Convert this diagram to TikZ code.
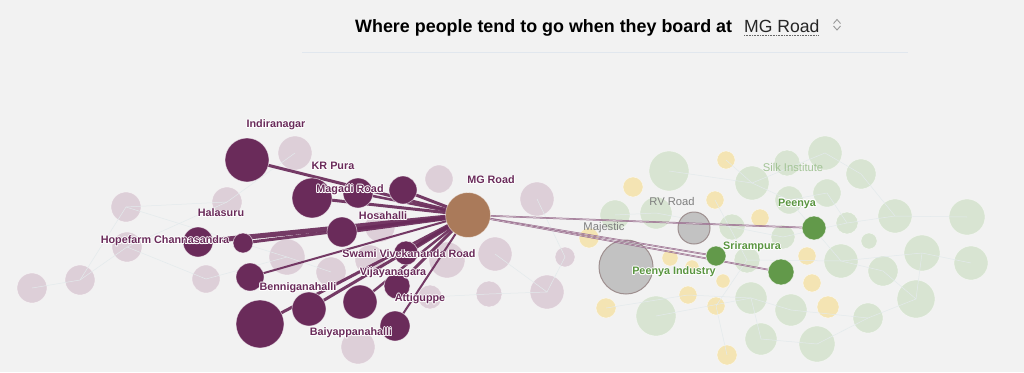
\documentclass[tikz,border=0pt]{standalone}
\usepackage{fontspec}
\setmainfont{Liberation Sans}
\definecolor{bg}{HTML}{F2F2F2}
\definecolor{dp}{HTML}{6A2B5A}
\definecolor{lp}{HTML}{DBCCD6}
\definecolor{mgc}{HTML}{AA7A5A}
\definecolor{grf}{HTML}{BDBDBD}
\definecolor{grb}{HTML}{9E8F8F}
\definecolor{grt}{HTML}{7F7F7F}
\definecolor{dg}{HTML}{62994A}
\definecolor{dgt}{HTML}{5A9540}
\definecolor{lg}{HTML}{D6E3CF}
\definecolor{lgt}{HTML}{A3C496}
\definecolor{yl}{HTML}{F5E4B0}
\definecolor{web}{HTML}{E3EAEC}
\definecolor{rule}{HTML}{E1E7EE}
\pgfdeclarelayer{back}
\pgfdeclarelayer{mid}
\pgfsetlayers{back,mid,main}
\newcommand\hlocopy[3]{\makebox[0pt][l]{\kern#1\raisebox{#2}{\color{white}#3}}}
\newcommand\hlo[1]{\hbox{%
\hlocopy{0.8pt}{0pt}{#1}\hlocopy{-0.8pt}{0pt}{#1}\hlocopy{0pt}{0.8pt}{#1}\hlocopy{0pt}{-0.8pt}{#1}%
\hlocopy{0.6pt}{0.6pt}{#1}\hlocopy{-0.6pt}{0.6pt}{#1}\hlocopy{0.6pt}{-0.6pt}{#1}\hlocopy{-0.6pt}{-0.6pt}{#1}%
#1}}
\tikzset{
  bub/.style={circle, inner sep=0pt, minimum size={2*#1pt}},
  lpn/.style={bub=#1, fill=lp, draw=white, draw opacity=0.5, line width=0.6pt, fill opacity=0.9},
  lgn/.style={bub=#1, fill=lg, draw=white, draw opacity=0.5, line width=0.6pt, fill opacity=0.9},
  yln/.style={bub=#1, fill=yl, draw=white, draw opacity=0.5, line width=0.6pt, fill opacity=0.95},
  dpn/.style={bub=#1, fill=dp, draw=white, draw opacity=0.6, line width=0.7pt},
  dgn/.style={bub=#1, fill=dg, draw=white, draw opacity=0.6, line width=0.7pt},
  grn/.style={bub=#1, fill=grf, draw=grb, line width=1pt, fill opacity=0.9},
  hub/.style={bub=#1, fill=mgc, draw=white, draw opacity=0.5, line width=0.7pt},
  lk/.style={draw=dp, line width=#1pt, opacity=0.92},
  thinlk/.style={draw=dp!80, line width=0.5pt, double=lp, double distance=0.6pt, opacity=0.9},
  webl/.style={draw=web, line width=0.5pt},
  lab/.style={font=\bfseries\fontsize{10.8}{12}\selectfont, text=dp, inner sep=0pt},
  glab/.style={font=\bfseries\fontsize{10.8}{12}\selectfont, text=dgt, inner sep=0pt},
  graylab/.style={font=\fontsize{11.2}{12}\selectfont, text=grt, inner sep=0pt},
}
\begin{document}
\begin{tikzpicture}[x=1pt, y=-1pt]
\begin{pgfonlayer}{back}
\fill[bg] (0,0) rectangle (1024,372);
\end{pgfonlayer}
\useasboundingbox (0,0) rectangle (1024,372);
% header
\node[anchor=base west, inner sep=0pt, font=\bfseries\fontsize{17.9}{20}\selectfont] (title) at (355,32) {Where people tend to go when they board at};
\node[anchor=base west, inner sep=0pt, font=\fontsize{17.6}{20}\selectfont, text=black!85] (sel) at (744,32) {MG Road};
\coordinate (ulA) at (744,34.8);
\coordinate (ulB) at (819,34.8);
\draw[black!60, line width=0.6pt, dash pattern=on 0.8pt off 0.8pt] (ulA) -- (ulB);
\coordinate (icU) at (837,19.5);
\coordinate (icD) at (837,30);
\draw[black!40, line width=0.9pt] ([shift={(-3.5,4)}]icU) -- (icU) -- ([shift={(3.5,4)}]icU);
\draw[black!40, line width=0.9pt] ([shift={(-3.5,-4)}]icD) -- (icD) -- ([shift={(3.5,-4)}]icD);
\coordinate (ruleA) at (302,52);
\coordinate (ruleB) at (908,52);
\draw[rule, line width=0.8pt] (ruleA) -- (ruleB);

\begin{pgfonlayer}{back}
% light purple circles
\node[lpn=17] (p1) at (295,153) {};
\node[lpn=15] (p2) at (227,202) {};
\node[lpn=15] (p3) at (126,207) {};
\node[lpn=15] (p4) at (127,247) {};
\node[lpn=15] (p5) at (32,288) {};
\node[lpn=15] (p6) at (80,280) {};
\node[lpn=14] (p7) at (206,279) {};
\node[lpn=18] (p8) at (287,257) {};
\node[lpn=15] (p9) at (331,272) {};
\node[lpn=15] (p10) at (380,227) {};
\node[lpn=14] (p11) at (439,179) {};
\node[lpn=17] (p12) at (537,199) {};
\node[lpn=17] (p13) at (495,254) {};
\node[lpn=10] (p14) at (565,257) {};
\node[lpn=13] (p15) at (489,294) {};
\node[lpn=17] (p16) at (547,292) {};
\node[lpn=18] (p17) at (447,260) {};
\node[lpn=12] (p18) at (430,297) {};
\node[lpn=17] (p19) at (358,347) {};
\node[lpn=15] (p20) at (370,260) {};

% light green circles
\node[lgn=20] (g1) at (669,171) {};
\node[lgn=13] (g2) at (787,163) {};
\node[lgn=17] (g3) at (825,153) {};
\node[lgn=17] (g4) at (752,183) {};
\node[lgn=15] (g5) at (861,174) {};
\node[lgn=15] (g6) at (615,215) {};
\node[lgn=16] (g7) at (656,213) {};
\node[lgn=13] (g8) at (732,227) {};
\node[lgn=14] (g9) at (789,200) {};
\node[lgn=14] (g10) at (827,193) {};
\node[lgn=12] (g11) at (783,237) {};
\node[lgn=11] (g12) at (847,223) {};
\node[lgn=17] (g13) at (895,216) {};
\node[lgn=18] (g14) at (967,217) {};
\node[lgn=8] (g15) at (869,241) {};
\node[lgn=13] (g16) at (747,260) {};
\node[lgn=17] (g17) at (841,261) {};
\node[lgn=15] (g18) at (883,271) {};
\node[lgn=18] (g19) at (922,253) {};
\node[lgn=17] (g20) at (971,263) {};
\node[lgn=16] (g21) at (751,298) {};
\node[lgn=16] (g22) at (791,310) {};
\node[lgn=15] (g23) at (868,318) {};
\node[lgn=19] (g24) at (916,299) {};
\node[lgn=20] (g25) at (656,316) {};
\node[lgn=16] (g26) at (761,339) {};
\node[lgn=18] (g27) at (817,344) {};

% yellow circles
\node[yln=9] (y1) at (726,160) {};
\node[yln=10] (y2) at (633,187) {};
\node[yln=9] (y3) at (715,200) {};
\node[yln=9] (y4) at (760,218) {};
\node[yln=10] (y5) at (589,238) {};
\node[yln=8] (y6) at (670,258) {};
\node[yln=7] (y7) at (692,267) {};
\node[yln=9] (y8) at (807,256) {};
\node[yln=7] (y9) at (723,281) {};
\node[yln=9] (y10) at (812,283) {};
\node[yln=9] (y11) at (688,295) {};
\node[yln=10] (y12) at (606,308) {};
\node[yln=9] (y13) at (716,306) {};
\node[yln=11] (y14) at (828,307) {};
\node[yln=10] (y15) at (727,355) {};

% faint web of other journeys
\draw[webl] (p5.center) -- (p6.center) -- (p4.center) -- (p2.center) -- (p1.center);
\draw[webl] (p6.center) -- (p3.center) -- (p2.center);
\draw[webl] (p4.center) -- (p7.center) -- (p8.center) -- (p9.center);
\draw[webl] (p3.center) -- (p8.center);
\draw[webl] (p13.center) -- (p16.center) -- (p15.center) -- (p18.center);
\draw[webl] (p12.center) -- (p14.center) -- (p16.center);
\draw[webl] (g1.center) -- (g4.center) -- (g3.center) -- (g5.center) -- (g13.center) -- (g14.center);
\draw[webl] (g6.center) -- (g7.center) -- (g8.center) -- (g11.center) -- (g12.center) -- (g13.center);
\draw[webl] (g16.center) -- (g17.center) -- (g19.center) -- (g20.center);
\draw[webl] (g25.center) -- (g21.center) -- (g22.center) -- (g23.center) -- (g24.center) -- (g19.center);
\draw[webl] (g21.center) -- (g26.center) -- (g27.center) -- (g23.center);
\draw[webl] (g9.center) -- (g17.center) -- (g18.center) -- (g24.center);
\draw[webl] (y1.center) -- (g4.center) -- (g9.center) -- (g10.center) -- (g12.center);
\draw[webl] (y3.center) -- (g16.center) -- (y13.center) -- (y15.center);
\draw[webl] (y12.center) -- (y11.center) -- (g21.center);
% gray stations
\node[grn=27] (maj) at (626,267) {};
\node[grn=16] (rvr) at (694,228) {};
\end{pgfonlayer}

% hub
\node[hub=22.5] (mg) at (468,215) {};
% dark purple stations
\node[dpn=22] (d1) at (247,160) {};
\node[dpn=20] (d2) at (312,198) {};
\node[dpn=15] (d3) at (358,193) {};
\node[dpn=14] (d4) at (403,190) {};
\node[dpn=15] (d5) at (342,232) {};
\node[dpn=15] (d6) at (198,242) {};
\node[dpn=10] (d7) at (243,243) {};
\node[dpn=14] (d8) at (250,277) {};
\node[dpn=24] (d9) at (260,324) {};
\node[dpn=17] (d10) at (309,309) {};
\node[dpn=17] (d11) at (360,302) {};
\node[dpn=15] (d12) at (395,326) {};
\node[dpn=13] (d13) at (397,286) {};
\node[dpn=12] (d14) at (406,253) {};
% green stations
\node[dgn=12] (pee) at (814,228) {};
\node[dgn=10] (sri) at (716,256) {};
\node[dgn=13] (pin) at (781,272) {};

% journeys from MG Road
\begin{pgfonlayer}{mid}
\draw[lk=3] (d1.center) -- (mg.center);
\draw[lk=3] (d2.center) -- (mg.center);
\draw[lk=2.5] (d3.center) -- (mg.center);
\draw[lk=3] (d4.center) -- (mg.center);
\draw[lk=4.5] (d5.center) -- (mg.center);
\draw[lk=5] (d6.center) -- (mg.center);
\draw[lk=3] (d7.center) -- (mg.center);
\draw[lk=2] (d8.center) -- (mg.center);
\draw[lk=3] (d9.center) -- (mg.center);
\draw[lk=3] (d10.center) -- (mg.center);
\draw[lk=2.5] (d11.center) -- (mg.center);
\draw[lk=2] (d12.center) -- (mg.center);
\draw[lk=3] (d13.center) -- (mg.center);
\draw[lk=4] (d14.center) -- (mg.center);
\draw[thinlk] (mg.center) -- (pee.center);
\draw[thinlk] (mg.center) -- (sri.center);
\draw[thinlk] (mg.center) -- (pin.center);
\end{pgfonlayer}

% labels
\node[lab] (tInd) at (276,125) {\hlo{Indiranagar}};
\node[lab] (tKR) at (333,166) {\hlo{KR Pura}};
\node[lab] (tMag) at (350,190) {\hlo{Magadi Road}};
\node[lab] (tHal) at (221,213) {\hlo{Halasuru}};
\node[lab] (tHos) at (383,216) {\hlo{Hosahalli}};
\node[lab] (tHop) at (165,241) {\hlo{Hopefarm Channasandra}};
\node[lab] (tMG) at (491,180) {\hlo{MG Road}};
\node[lab] (tSwa) at (409,254) {\hlo{Swami Vivekananda Road}};
\node[lab] (tVij) at (393,273) {\hlo{Vijayanagara}};
\node[lab] (tBen) at (298,288) {\hlo{Benniganahalli}};
\node[lab] (tAtt) at (420,299) {\hlo{Attiguppe}};
\node[lab] (tBai) at (351,333) {\hlo{Baiyappanahalli}};
\node[graylab] (tMaj) at (604,228) {Majestic};
\node[graylab] (tRV) at (672,201) {RV Road};
\node[graylab, text=lgt] (tSilk) at (793,167) {Silk Institute};
\node[glab] (tPee) at (797,204) {\hlo{Peenya}};
\node[glab] (tSri) at (752,247) {\hlo{Srirampura}};
\node[glab] (tPin) at (674,272) {\hlo{Peenya Industry}};
\end{tikzpicture}
\end{document}
